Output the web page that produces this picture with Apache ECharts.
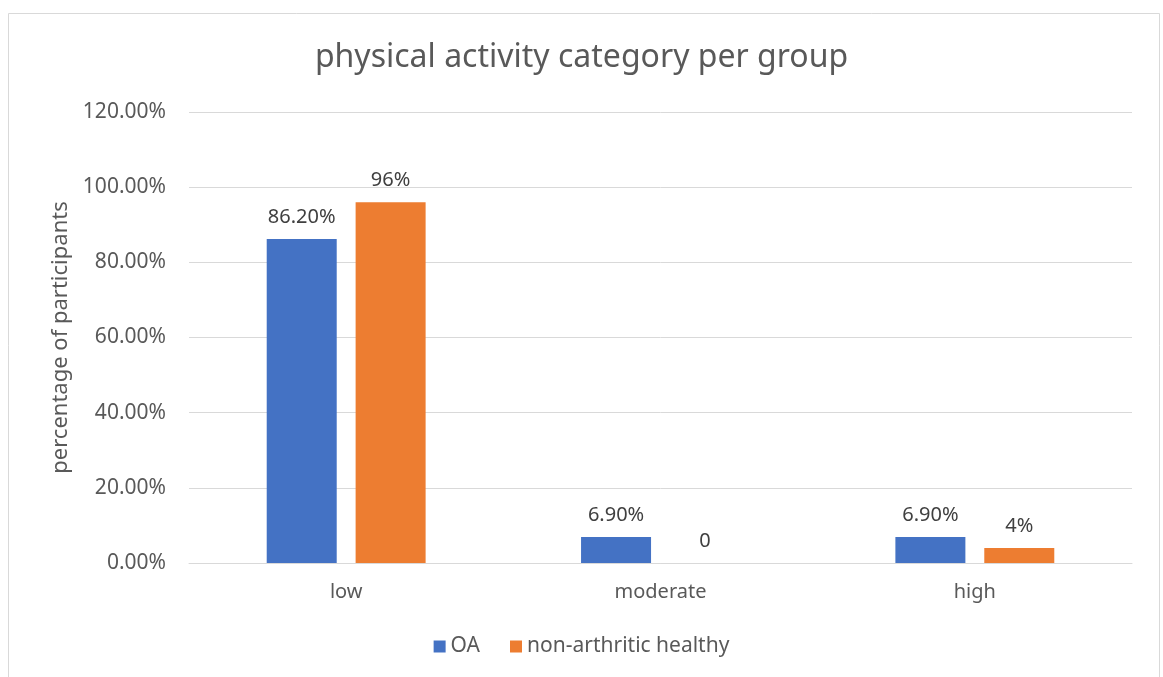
<!DOCTYPE html>
<html>
<head>
<meta charset="utf-8">
<script src="https://cdn.jsdelivr.net/npm/echarts@6/dist/echarts.min.js"></script>
<style>
  html, body { margin: 0; padding: 0; background: #fff; }
  #main { width: 1163px; height: 677px; }
</style>
</head>
<body>
<div id="main"></div>
<script>
var categories = ['low', 'moderate', 'high'];
var oaValues = [86.2, 6.9, 6.9];
var healthyValues = [96, 0, 4];
var oaLabels = ['86.20%', '6.90%', '6.90%'];
var healthyLabels = ['96%', '0', '4%'];

var myChart = echarts.init(document.getElementById('main'));
var font = '"Noto Sans", sans-serif';

var option = {
    backgroundColor: '#fff',
    animation: false,
    textStyle: { fontFamily: font },
    graphic: [{
        type: 'rect',
        shape: { x: 8.5, y: 13.5, width: 1151, height: 700 },
        style: { fill: null, stroke: '#d9d9d9', lineWidth: 1 },
        silent: true
    }],
    title: {
        text: 'physical activity category per group',
        left: 'center',
        top: 37,
        textStyle: { fontSize: 32, fontWeight: 'normal', color: '#595959', fontFamily: font }
    },
    legend: {
        bottom: 15,
        left: 'center',
        itemWidth: 12,
        itemHeight: 12,
        itemGap: 30,
        icon: 'rect',
        textStyle: { fontSize: 21, color: '#595959', fontFamily: font },
        data: ['OA', 'non-arthritic healthy']
    },
    grid: {
        left: 189,
        right: 31,
        top: 112,
        bottom: 114
    },
    xAxis: {
        type: 'category',
        data: categories,
        axisTick: { show: false },
        axisLine: { lineStyle: { color: '#d9d9d9' } },
        axisLabel: { fontSize: 20, color: '#595959', margin: 19 }
    },
    yAxis: {
        type: 'value',
        min: 0,
        max: 120,
        interval: 20,
        name: 'percentage of participants',
        nameLocation: 'middle',
        nameGap: 114,
        nameTextStyle: { fontSize: 22, color: '#595959' },
        axisLabel: {
            fontSize: 21,
            color: '#595959',
            margin: 23,
            formatter: function (v) { return v.toFixed(2) + '%'; }
        },
        splitLine: { lineStyle: { color: '#d9d9d9' } }
    },
    series: [
        {
            name: 'OA',
            type: 'bar',
            data: oaValues,
            barWidth: 70,
            barGap: '27%',
            itemStyle: { color: '#4472c4' },
            label: {
                show: true,
                position: 'top',
                distance: 12,
                fontSize: 20,
                color: '#404040',
                formatter: function (p) { return oaLabels[p.dataIndex]; }
            }
        },
        {
            name: 'non-arthritic healthy',
            type: 'bar',
            data: healthyValues,
            barWidth: 70,
            itemStyle: { color: '#ed7d31' },
            label: {
                show: true,
                position: 'top',
                distance: 12,
                fontSize: 20,
                color: '#404040',
                formatter: function (p) { return healthyLabels[p.dataIndex]; }
            }
        }
    ]
};
myChart.setOption(option);
</script>
</body>
</html>
